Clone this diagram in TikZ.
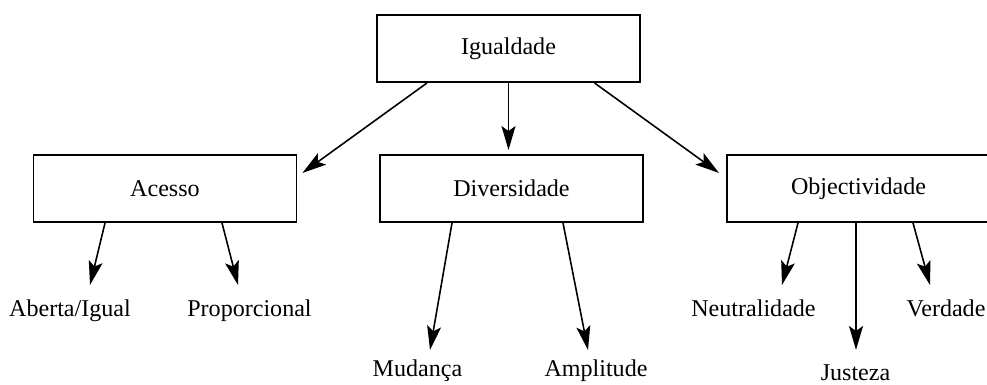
\documentclass[tikz,border=0pt]{standalone}
\usepackage{fontspec}
\setmainfont{Liberation Serif}
\usepackage{tikz}
\usetikzlibrary{arrows.meta, positioning, calc}

\begin{document}
\begin{tikzpicture}[
    x=0.02cm, y=-0.02cm,
    box/.style={draw, rectangle, line width=1.1pt, minimum width=5.26cm, minimum height=1.34cm, align=center, font=\fontsize{13.7}{16}\selectfont},
    leaf/.style={anchor=base, inner sep=0pt, font=\fontsize{13.7}{16}\selectfont},
    arr/.style={-{Stealth[length=0.48cm, width=0.28cm, inset=0.1cm]}, line width=0.9pt}
]
\useasboundingbox (0,0) rectangle (987,385);
% boxes
\node[box] (igual) at (508.5, 48.5) {Igualdade};
\node[box] (acesso) at (165, 188.5) {Acesso};
\node[box] (divers) at (511.5, 188.5) {Diversidade};
\node[box] (objec) at (858.5, 188.5) {Objectividade};
% leaves
\node[leaf] (aberta) at (70, 316) {Aberta/Igual};
\node[leaf] (prop) at (249.5, 316) {Proporcional};
\node[leaf] (mud) at (417.5, 376) {Mudança};
\node[leaf] (ampl) at (596, 376) {Amplitude};
\node[leaf] (neutr) at (753.5, 316) {Neutralidade};
\node[leaf] (verd) at (946, 316) {Verdade};
\node[leaf] (just) at (855.5, 380) {Justeza};
% top level
\draw[arr] ($(igual.south)+(-81.5,0)$) -- ($(acesso.east)+(5,-15.5)$);
\draw[arr] (igual.south) -- ($(igual.south |- divers.north)+(0,-4)$);
\draw[arr] ($(igual.south)+(86,0)$) -- ($(objec.west)+(-7,-15.5)$);
% second level
\draw[arr] ($(acesso.south)+(-60,0)$) -- ($(aberta.base)+(20,-31)$);
\draw[arr] ($(acesso.south)+(57,0)$) -- ($(prop.base)+(-11.5,-31)$);
\draw[arr] ($(divers.south)+(-59.5,0)$) -- ($(mud.base)+(12.5,-26)$);
\draw[arr] ($(divers.south)+(51.5,0)$) -- ($(ampl.base)+(-8,-26)$);
\draw[arr] ($(objec.south)+(-60.5,0)$) -- ($(neutr.base)+(28.5,-31)$);
\draw[arr] ($(objec.south)+(-2.5,0)$) -- ($(just.base)+(0.5,-30)$);
\draw[arr] ($(objec.south)+(54.5,0)$) -- ($(verd.base)+(-16,-31)$);
\end{tikzpicture}
\end{document}
